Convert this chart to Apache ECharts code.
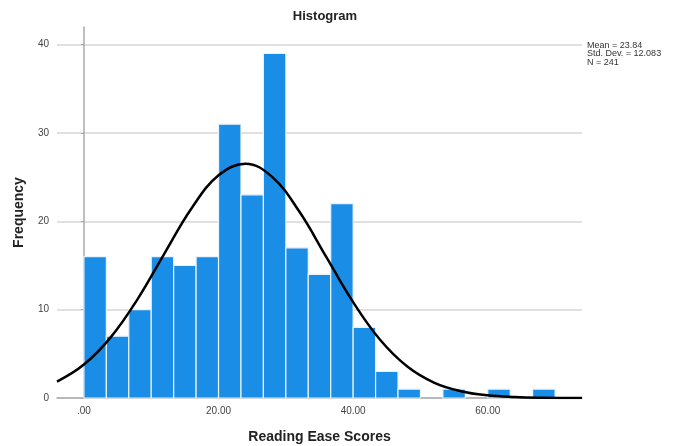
<!DOCTYPE html>
<html>
<head>
<meta charset="utf-8">
<title>Histogram</title>
<script src="https://cdn.jsdelivr.net/npm/echarts@6/dist/echarts.min.js"></script>
<style>
	html, body { margin: 0; padding: 0; background: #fff; }
	#chart { width: 681px; height: 446px; }
</style>
</head>
<body>
<div id="chart"></div>
<script type="text/javascript">
// bins of width 10/3 starting at .00
var binWidth = 10 / 3;
var counts = [16, 7, 10, 16, 15, 16, 31, 23, 39, 17, 14, 22, 8, 3, 1, 0, 1, 0, 1, 0, 1];

// normal curve
var curveX = [-4, 0, 4, 8, 12, 16, 20, 24, 28, 32, 36, 40, 44, 48, 52, 56, 60, 64, 68, 72, 74];
var curveY = [1.86, 3.79, 6.89, 11.23, 16.41, 21.49, 25.21, 26.52, 25.0, 21.11, 15.98, 10.85, 6.59, 3.59, 1.75, 0.77, 0.30, 0.11, 0.03, 0.01, 0.004];

var xTicks = [0, 20, 40, 60];
var yTicks = [0, 10, 20, 30, 40];
var statLines = ['Mean = 23.84', 'Std. Dev. = 12.083', 'N = 241'];

var font = 'Liberation Sans, Arial, sans-serif';

var bars = [];
for (var i = 0; i < counts.length; i++) {
	if (counts[i] > 0) bars.push([i * binWidth, (i + 1) * binWidth, counts[i]]);
}
var curve = curveX.map(function(x, k){ return [x, curveY[k]]; });

var myChart = echarts.init(document.getElementById('chart'));
myChart.setOption({
	animation: false,
	title: {
		text: 'Histogram',
		left: 320,
		top: 5,
		textAlign: 'center',
		textStyle: { fontFamily: font, fontSize: 13, fontWeight: 'bold', color: '#222' }
	},
	grid: { left: 57, right: 99, top: 27, bottom: 48, outerBoundsMode: 'none' },
	xAxis: {
		type: 'value',
		min: -4,
		max: 74,
		name: 'Reading Ease Scores',
		nameLocation: 'middle',
		nameGap: 32,
		nameTextStyle: { fontFamily: font, fontSize: 14, fontWeight: 'bold', color: '#222' },
		axisLine: { lineStyle: { color: '#aaa', width: 1.5 } },
		axisTick: { show: false },
		splitLine: { show: false },
		axisLabel: {
			customValues: xTicks,
			fontFamily: font, fontSize: 10, color: '#444', margin: 8,
			formatter: function(v){ return v === 0 ? '.00' : v.toFixed(2); }
		}
	},
	yAxis: {
		type: 'value',
		min: 0,
		max: 42,
		interval: 10,
		name: 'Frequency',
		nameLocation: 'middle',
		nameGap: 31,
		nameRotate: 90,
		nameTextStyle: { fontFamily: font, fontSize: 14, fontWeight: 'bold', color: '#222' },
		axisLine: { show: true, lineStyle: { color: '#aaa', width: 1.5 } },
		axisTick: { show: true, customValues: yTicks, length: 3, lineStyle: { color: '#aaa' } },
		axisLabel: { customValues: yTicks, fontFamily: font, fontSize: 10, color: '#444', margin: 8 },
		splitLine: { show: true, lineStyle: { color: '#d6d6d6', width: 1.5 } }
	},
	series: [
		{
			type: 'custom',
			data: bars,
			renderItem: function(params, api) {
				var p0 = api.coord([api.value(0), api.value(2)]);
				var p1 = api.coord([api.value(1), 0]);
				return {
					type: 'rect',
					shape: { x: p0[0], y: p0[1], width: p1[0] - p0[0], height: p1[1] - p0[1] },
					style: { fill: '#1a8de6', stroke: '#e8f2fb', lineWidth: 1.2 }
				};
			}
		},
		{
			type: 'line',
			data: curve,
			smooth: 0.4,
			symbol: 'none',
			lineStyle: { color: '#000', width: 2.5 },
			z: 5
		}
	],
	graphic: statLines.map(function(t, k){
		return {
			type: 'text',
			left: 587,
			top: 41 + k * 8.5,
			style: { text: t, fontFamily: font, fontSize: 9, fill: '#333' }
		};
	})
});
</script>
</body>
</html>
